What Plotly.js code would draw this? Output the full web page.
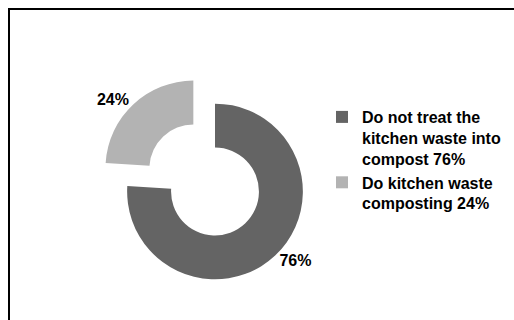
<!DOCTYPE html>
<html>
<head>
<meta charset="utf-8">
<script src="https://cdn.plot.ly/plotly-3.0.1.min.js"></script>
<style>
html,body{margin:0;padding:0;background:#fff;}
#chart{width:514px;height:320px;}
</style>
</head>
<body>
<div id="chart"></div>
<script>
const categories = ["Do not treat the<br>kitchen waste into<br>compost 76%", "Do kitchen waste<br>composting 24%"];
const values = [76, 24];
const sliceColors = ["#646464", "#b3b3b3"];
const pulls = [0, 0.36];

const W = 514, H = 320;
const trace = {
  type: "pie",
  labels: categories,
  values: values,
  hole: 0.5,
  sort: false,
  direction: "clockwise",
  rotation: 0,
  pull: pulls,
  marker: {colors: sliceColors, line: {width: 0}},
  textposition: "outside",
  texttemplate: "%{percent:.0%}",
  textfont: {family: "Liberation Sans, Arial, sans-serif", size: 16, weight: "bold", color: "#000"},
  hoverinfo: "none",
  domain: {x: [95 / W, 335 / W], y: [1 - 311 / H, 1 - 72 / H]}
};

const layout = {
  width: W, height: H,
  margin: {l: 0, r: 0, t: 0, b: 0, autoexpand: false},
  paper_bgcolor: "#fff",
  showlegend: true,
  legend: {
    x: 322 / W, xanchor: "left",
    y: 0.5, yanchor: "middle",
    valign: "top",
    font: {family: "Liberation Sans, Arial, sans-serif", size: 16, weight: "bold", color: "#000"},
    bgcolor: "rgba(0,0,0,0)",
    tracegroupgap: 0
  },
  shapes: [{
    type: "rect", xref: "paper", yref: "paper",
    x0: 9 / W, x1: 1.2, y0: -0.2, y1: 1 - 9 / H,
    line: {color: "#000", width: 2}
  }]
};

Plotly.newPlot("chart", [trace], layout, {staticPlot: true, displayModeBar: false});
</script>
</body>
</html>
